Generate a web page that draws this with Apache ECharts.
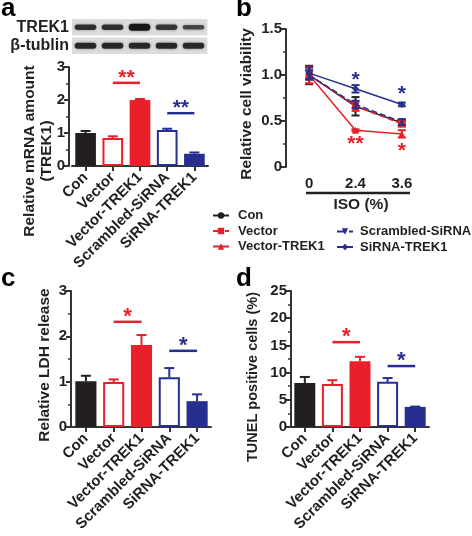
<!DOCTYPE html>
<html><head><meta charset="utf-8">
<script src="https://cdn.jsdelivr.net/npm/echarts@6/dist/echarts.min.js"></script>
<style>html,body{margin:0;padding:0;background:#fff}#c{width:472px;height:536px}</style>
</head><body><div id="c"></div>
<script>
// ---------- data ----------
const groups = ['Con', 'Vector', 'Vector-TREK1', 'Scrambled-SiRNA', 'SiRNA-TREK1'];
const blotRows = ['TREK1', 'β-tublin'];
const trek1Band = [0.72, 0.72, 1.0, 0.66, 0.5];
const tublinBand = [0.8, 0.8, 0.8, 0.8, 0.78];

const mrnaMean = [1.0, 0.85, 2.0, 1.09, 0.37];
const mrnaErr = [0.06, 0.05, 0.03, 0.04, 0.04];
const mrnaSig = [[1, 2, 2.52, '**'], [3, 4, 1.6, '**']];

const isoDose = ['0', '2.4', '3.6'];
const viabCon = [1.0, 0.66, 0.48];
const viabVector = [1.0, 0.66, 0.47];
const viabVecTrek = [1.0, 0.40, 0.36];
const viabScr = [1.0, 0.68, 0.49];
const viabSi = [1.02, 0.85, 0.68];
const errCon = [0.1, 0.1, 0.03];
const errVector = [0.09, 0.05, 0.03];
const errVecTrek = [0.05, 0.01, 0.04];
const errScr = [0.05, 0.04, 0.03];
const errSi = [0.06, 0.04, 0.02];
const starsVsScr = [[1, 0.99, '*'], [2, 0.84, '*']];
const starsVsVec = [[1, 0.29, '**'], [2, 0.21, '*']];

const ldhMean = [1.01, 0.99, 1.81, 1.1, 0.57];
const ldhErr = [0.12, 0.06, 0.22, 0.2, 0.15];
const ldhSig = [[1, 2, 2.32, '*'], [3, 4, 1.68, '*']];

const tunelMean = [8.1, 7.9, 12.1, 8.3, 3.7];
const tunelErr = [1.1, 0.7, 0.8, 0.7, 0.05];
const tunelSig = [[1, 2, 15.6, '*'], [3, 4, 11.2, '*']];

// ---------- style ----------
const RED = '#e8202a', BLUE = '#262f8f', BLK = '#231f20', AX = '#333';
const FF = 'Liberation Sans, Arial, sans-serif';
const barFill = [BLK, '#fff', RED, '#fff', BLUE];
const barEdge = [BLK, RED, RED, BLUE, BLUE];
const sigColor = [RED, BLUE];

const chart = echarts.init(document.getElementById('c'), null, {renderer: 'canvas'});

function xCat(grid) {
  return {
    type: 'category', gridIndex: grid, data: groups,
    axisLine: {show: true, lineStyle: {color: AX, width: 2}},
    axisTick: {show: true, alignWithLabel: true, length: 5, lineStyle: {color: AX, width: 2}},
    axisLabel: {rotate: 45, interval: 0, margin: 9, color: BLK, fontSize: 15, fontWeight: 'bold', fontFamily: FF}
  };
}
function yVal(grid, max, interval, offset, fmt) {
  return {
    type: 'value', gridIndex: grid, min: 0, max: max, interval: interval, offset: offset || 0,
    axisLine: {show: true, lineStyle: {color: AX, width: 2}},
    axisTick: {show: true, length: 5, lineStyle: {color: AX, width: 2}},
    minorTick: {show: true, splitNumber: 2, length: 3, lineStyle: {color: AX, width: 1.5}},
    splitLine: {show: false},
    axisLabel: {margin: 4, color: BLK, fontSize: 15, fontWeight: 'bold', fontFamily: FF, formatter: fmt}
  };
}
function barSeries(ax, mean) {
  return {
    type: 'bar', xAxisIndex: ax, yAxisIndex: ax, barWidth: '76%', silent: true,
    data: mean.map((v, i) => ({value: v, itemStyle: {color: barFill[i], borderColor: barEdge[i], borderWidth: barFill[i] === '#fff' ? 2 : 0}}))
  };
}
function errSeries(ax, mean, err) {
  return {
    type: 'custom', xAxisIndex: ax, yAxisIndex: ax, silent: true, z: 5,
    encode: {x: 0, y: [1, 2]},
    data: mean.map((v, i) => [i, v, v + err[i]]),
    renderItem: function (p, api) {
      const a = api.coord([api.value(0), api.value(1)]);
      const b = api.coord([api.value(0), api.value(2)]);
      const c = barEdge[p.dataIndex];
      return {type: 'group', children: [
        {type: 'line', shape: {x1: a[0], y1: a[1], x2: b[0], y2: b[1]}, style: {stroke: c, lineWidth: 2}},
        {type: 'line', shape: {x1: b[0] - 5, y1: b[1], x2: b[0] + 5, y2: b[1]}, style: {stroke: c, lineWidth: 2}}
      ]};
    }
  };
}
function sigSeries(ax, sig, fs) {
  return {
    type: 'custom', xAxisIndex: ax, yAxisIndex: ax, silent: true, z: 6,
    encode: {x: 0, y: 2},
    data: sig.map(s => [s[0], s[1], s[2]]),
    renderItem: function (p, api) {
      const a = api.coord([api.value(0), api.value(2)]);
      const b = api.coord([api.value(1), api.value(2)]);
      const c = sigColor[p.dataIndex];
      return {type: 'group', children: [
        {type: 'line', shape: {x1: a[0], y1: a[1], x2: b[0], y2: b[1]}, style: {stroke: c, lineWidth: 2.5}},
        {type: 'text', x: (a[0] + b[0]) / 2, y: a[1] - 5, style: {text: sig[p.dataIndex][3], fill: c, font: 'bold ' + fs + 'px ' + FF, align: 'center', verticalAlign: 'middle'}}
      ]};
    }
  };
}

// line panel
const viab = [viabCon, viabVector, viabVecTrek, viabScr, viabSi];
const viabErr = [errCon, errVector, errVecTrek, errScr, errSi];
const lineColor = [BLK, RED, RED, BLUE, BLUE];
const lineDash = ['solid', 'dashed', 'solid', 'dashed', 'solid'];
const lineSym = ['circle', 'rect', 'triangle', 'path://M0,0 L10,0 L5,9 Z', 'diamond'];
const lineSeries = groups.map((g, s) => ({
  name: g, type: 'line', xAxisIndex: 2, yAxisIndex: 2, data: viab[s],
  symbol: lineSym[s], symbolSize: 7, silent: true,
  itemStyle: {color: lineColor[s]},
  lineStyle: {color: lineColor[s], width: 1.5, type: lineDash[s]},
  z: 3 + s * 0.1
}));
const errFlat = [];
viab.forEach((arr, s) => arr.forEach((v, i) => errFlat.push([i, v - viabErr[s][i], v + viabErr[s][i], s])));
const lineErr = {
  type: 'custom', xAxisIndex: 2, yAxisIndex: 2, silent: true, z: 4, encode: {x: 0, y: [1, 2]},
  data: errFlat,
  renderItem: function (p, api) {
    const a = api.coord([api.value(0), api.value(1)]);
    const b = api.coord([api.value(0), api.value(2)]);
    const c = lineColor[api.value(3)];
    return {type: 'group', children: [
      {type: 'line', shape: {x1: a[0], y1: a[1], x2: b[0], y2: b[1]}, style: {stroke: c, lineWidth: 2}},
      {type: 'line', shape: {x1: a[0] - 4, y1: a[1], x2: a[0] + 4, y2: a[1]}, style: {stroke: c, lineWidth: 2}},
      {type: 'line', shape: {x1: b[0] - 4, y1: b[1], x2: b[0] + 4, y2: b[1]}, style: {stroke: c, lineWidth: 2}}
    ]};
  }
};
function starSeries(stars, color) {
  return {
    type: 'custom', xAxisIndex: 2, yAxisIndex: 2, silent: true, z: 6, encode: {x: 0, y: 1},
    data: stars.map(s => [s[0], s[1]]),
    renderItem: function (p, api) {
      const a = api.coord([api.value(0), api.value(1)]);
      return {type: 'text', x: a[0], y: a[1] + 4, style: {text: stars[p.dataIndex][2], fill: color, font: 'bold 21px ' + FF, align: 'center', verticalAlign: 'middle'}};
    }
  };
}

// blot
const blotData = [];
[trek1Band, tublinBand].forEach((row, r) => row.forEach((v, i) => blotData.push([i, r, v])));
const blotSeries = {
  type: 'custom', xAxisIndex: 0, yAxisIndex: 0, silent: true, encode: {x: 0, y: 1},
  data: blotData,
  renderItem: function (p, api) {
    const c = api.coord([api.value(0), api.value(1)]);
    const sz = api.size([1, 1]);
    const k = api.value(2);
    const bh = 2 + k * 5;
    return {type: 'group', children: [
      {type: 'rect', shape: {x: c[0] - sz[0] / 2, y: c[1] - sz[1] / 2 + 1, width: sz[0] + 0.5, height: sz[1] - 2}, style: {fill: '#dcdcdc'}},
      {type: 'rect', shape: {x: c[0] - sz[0] * 0.4, y: c[1] - bh / 2, width: sz[0] * 0.8, height: bh, r: bh / 2},
        style: {fill: 'rgba(25,22,22,' + (0.35 + 0.65 * k) + ')', shadowBlur: 3, shadowColor: 'rgba(0,0,0,0.45)'}}
    ]};
  }
};

function yTitle(x, y, text, fs) {
  return {type: 'text', x: x, y: y, rotation: Math.PI / 2, style: {text: text, fill: BLK, font: 'bold ' + fs + 'px ' + FF, align: 'center', verticalAlign: 'middle'}};
}
function letter(x, y, t) {
  return {type: 'text', x: x, y: y, style: {text: t, fill: '#000', font: 'bold 26px ' + FF, align: 'left', verticalAlign: 'middle'}};
}

const option = {
  animation: false,
  backgroundColor: '#fff',
  grid: [
    {left: 72, top: 18, width: 135, height: 37},
    {left: 72, top: 67, width: 136, height: 99},
    {left: 286, top: 29, width: 139, height: 138},
    {left: 72, top: 291, width: 139, height: 136},
    {left: 291, top: 291, width: 138, height: 136}
  ],
  xAxis: [
    {type: 'category', gridIndex: 0, data: groups, show: false},
    xCat(1),
    {type: 'category', gridIndex: 2, data: isoDose, axisLine: {show: false}, axisTick: {show: false},
      axisLabel: {margin: 9, color: BLK, fontSize: 15, fontWeight: 'bold', fontFamily: FF}},
    xCat(3),
    xCat(4)
  ],
  yAxis: [
    {type: 'category', gridIndex: 0, data: blotRows, inverse: true, axisLine: {show: false}, axisTick: {show: false},
      axisLabel: {interval: 0, margin: 3, color: BLK, fontSize: 16, fontWeight: 'bold', fontFamily: FF}},
    yVal(1, 3, 1, 3),
    yVal(2, 1.5, 0.5, 0, v => v === 0 ? '0' : v.toFixed(1)),
    yVal(3, 3, 1, 1),
    yVal(4, 25, 5, 0)
  ],
  legend: [
    {data: groups.slice(0, 3), orient: 'vertical', left: 207, top: 204, itemGap: 2.5, itemWidth: 16, itemHeight: 8,
      textStyle: {color: BLK, fontSize: 13, fontWeight: 'bold', fontFamily: FF, padding: [0, 0, 0, 4]}, selectedMode: false},
    {data: groups.slice(3), orient: 'vertical', left: 331, top: 220, itemGap: 2.5, itemWidth: 16, itemHeight: 8,
      textStyle: {color: BLK, fontSize: 13, fontWeight: 'bold', fontFamily: FF, padding: [0, 0, 0, 2]}, selectedMode: false}
  ],
  graphic: [
    letter(1, 9, 'a'), letter(236, 9, 'b'), letter(1, 279, 'c'), letter(236, 279, 'd'),
    yTitle(30, 151, 'Relative mRNA amount', 15.5),
    yTitle(47, 151, '(TREK1)', 15.5),
    yTitle(247, 104, 'Relative cell viability', 15.5),
    yTitle(45, 365, 'Relative LDH release', 15.5),
    yTitle(253, 377, 'TUNEL positive cells (%)', 14.5),
    {type: 'line', shape: {x1: 306, y1: 193, x2: 410, y2: 193}, style: {stroke: BLK, lineWidth: 2.5}},
    {type: 'text', x: 361, y: 205, style: {text: 'ISO (%)', fill: BLK, font: 'bold 15.5px ' + FF, align: 'center', verticalAlign: 'middle'}}
  ],
  series: [
    blotSeries,
    barSeries(1, mrnaMean), errSeries(1, mrnaMean, mrnaErr), sigSeries(1, mrnaSig, 21),
    ...lineSeries, lineErr, starSeries(starsVsScr, BLUE), starSeries(starsVsVec, RED),
    barSeries(3, ldhMean), errSeries(3, ldhMean, ldhErr), sigSeries(3, ldhSig, 22),
    barSeries(4, tunelMean), errSeries(4, tunelMean, tunelErr), sigSeries(4, tunelSig, 22)
  ]
};
chart.setOption(option);
</script></body></html>
